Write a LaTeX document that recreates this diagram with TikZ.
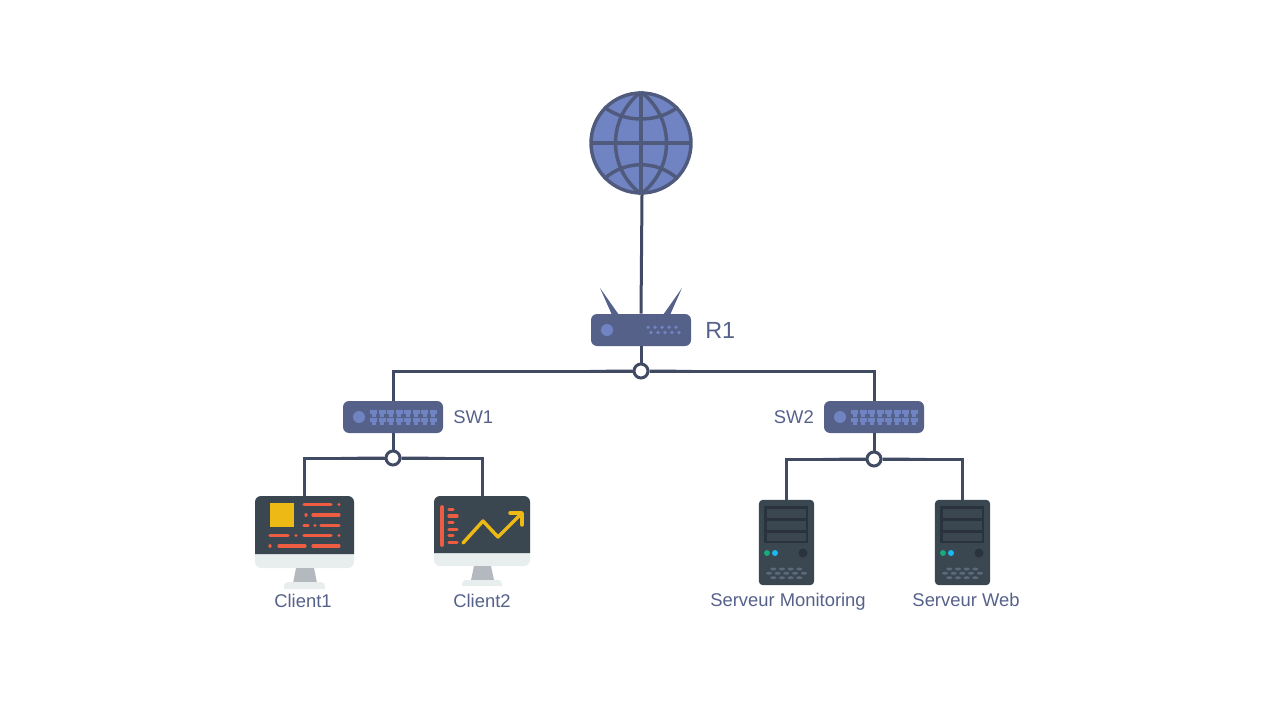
\documentclass[tikz,border=0pt]{standalone}
\usepackage{fontspec}
\setmainfont{Liberation Sans}
\definecolor{wirecol}{HTML}{414A63}
\definecolor{boxcol}{HTML}{56618A}
\definecolor{ledcol}{HTML}{7083C2}
\definecolor{globeline}{HTML}{4F5A7C}
\definecolor{screencol}{HTML}{3A4650}
\definecolor{chincol}{HTML}{E8EEEE}
\definecolor{standcol}{HTML}{B4B9C0}
\definecolor{redcol}{HTML}{EE5C41}
\definecolor{yellowcol}{HTML}{ECB915}
\definecolor{rackcol}{HTML}{2A333C}
\definecolor{keycol}{HTML}{5A6A7A}
\definecolor{tealcol}{HTML}{1AA87C}
\definecolor{skycol}{HTML}{1CB8F0}
\tikzset{
  wire/.style={draw=wirecol,line width=2.25pt},
  junction/.style={circle,draw=wirecol,fill=white,line width=2.25pt,minimum size=10.5pt,inner sep=0pt},
  netbox/.style={rectangle,fill=boxcol,rounded corners=4.5pt,minimum width=75pt,minimum height=24pt,inner sep=0pt},
  monitorbox/.style={rectangle,fill=chincol,rounded corners=4.5pt,inner sep=0pt},
  serverbox/.style={rectangle,fill=screencol,rounded corners=3pt,minimum width=41.5pt,minimum height=64pt,inner sep=0pt},
  label/.style={text=boxcol,font=\fontsize{13.8}{16}\selectfont,inner sep=0pt},
  redline/.style={draw=redcol,line width=2.5pt,line cap=round},
  serverparts/.pic={
    \fill[rackcol] (-22.5,-36.5) rectangle (21.5,0.5);
    \foreach \y in {-33.5,-21.5,-10} \fill[screencol] (-19.5,\y) rectangle (19.5,\y+8.5);
    \fill[tealcol] (-19.5,10.5) circle (3);
    \fill[skycol] (-11.5,10.5) circle (3);
    \fill[rackcol] (16.5,10.5) circle (4.5);
    \foreach \x in {-13.2,-4.5,4.2,12.8} {
      \fill[keycol] (\x,26.5) ellipse [x radius=3,y radius=1.5];
      \fill[keycol] (\x,35.2) ellipse [x radius=3,y radius=1.5];
    }
    \foreach \x in {-17.5,-8.8,-0.2,8.5,17.5} \fill[keycol] (\x,30.8) ellipse [x radius=3,y radius=1.5];
  }
}
\begin{document}
\begin{tikzpicture}[x=0.75pt,y=-0.75pt]
  \useasboundingbox (0,0) rectangle (1280,720);
  % Internet
  \node[circle,draw=globeline,fill=ledcol,line width=2.6pt,minimum size=75pt,inner sep=0pt] (globe) at (641,143) {};
  \draw[globeline,line width=2.6pt] (590,143) -- (692,143);
  \draw[globeline,line width=2.6pt] (641,92) -- (641,194);
  \draw[globeline,line width=2.6pt] (641,92) .. controls (607,118) and (607,168) .. (641,194);
  \draw[globeline,line width=2.6pt] (641,92) .. controls (675,118) and (675,168) .. (641,194);
  \draw[globeline,line width=2.6pt] (604,107) .. controls (625,123) and (657,123) .. (678,107);
  \draw[globeline,line width=2.6pt] (604,179) .. controls (625,160) and (657,160) .. (678,179);
  % Router
  \fill[boxcol] (600,288) -- (612,315) -- (619,315) -- cycle;
  \fill[boxcol] (682,288) -- (670,315) -- (663,315) -- cycle;
  \node[netbox] (R1) at (641,330) {};
  \fill[ledcol] (607,330) circle (6);
  \foreach \x in {648,655,662,669,676} \fill[ledcol] (\x,327.3) circle (1.8);
  \foreach \x in {651,658,665,672,679} \fill[ledcol] (\x,332.5) circle (1.8);
  \node[label,font=\fontsize{17.5}{20}\selectfont,anchor=base west] (R1text) at (705,338) {R1};
  % Switches
  \node[netbox] (SW1) at (393,417) {};
  \node[netbox] (SW2) at (874,417) {};
  \foreach \s in {SW1,SW2} {
    \fill[ledcol] ([xshift=-25.5pt]\s.center) circle (6);
    \foreach \i in {0,...,7} {
      \foreach \y in {-7,1} {
        \begin{scope}[shift={(\s.center)},xshift=\i*6.4pt,yshift=-\y*0.75pt]
          \fill[ledcol] (-23,0) rectangle (-16,4);
          \fill[ledcol] (-21.5,4) rectangle (-17.5,7);
        \end{scope}
      }
    }
  }
  \node[label,anchor=base west] (SW1text) at (453,423) {SW1};
  \node[label,anchor=base east] (SW2text) at (814,423) {SW2};
  % Junctions
  \node[junction] (J0) at (641,371) {};
  \node[junction] (J1) at (393,458) {};
  \node[junction] (J2) at (874,459) {};
  \coordinate (J0a) at (590,371.4);
  \coordinate (J0b) at (692,371.4);
  \coordinate (J1a) at (341,458.4);
  \coordinate (J1b) at (445,458.4);
  \coordinate (J2a) at (823,459.4);
  \coordinate (J2b) at (926,459.4);
  % Clients
  \node[monitorbox,minimum width=74.25pt,minimum height=54pt] (client1) at (304.5,532) {};
  \fill[screencol] (255,554) [rounded corners=4.5pt] -- (255,496) -- (354,496) [sharp corners] -- (354,554) -- cycle;
  \fill[standcol] (296,568) -- (314,568) -- (317,583) -- (293,583) -- cycle;
  \fill[chincol] (284,589) [rounded corners=3pt] -- (284,582) -- (325,582) [sharp corners] -- (325,589) -- cycle;
  \fill[yellowcol] (270,503) rectangle (294,527);
  \draw[redline] (304,504.7) -- (331,504.7) (339,504.7) -- (339.01,504.7);
  \draw[redline] (306,515) -- (306.01,515) (313,515) -- (339,515);
  \draw[redline] (304,525.3) -- (308,525.3) (315,525.3) -- (315.01,525.3) (321,525.3) -- (339,525.3);
  \draw[redline] (270,535.7) -- (288,535.7) (296,535.7) -- (296.01,535.7) (304,535.7) -- (331,535.7) (339,535.7) -- (339.01,535.7);
  \draw[redline] (270,546) -- (270.01,546) (279,546) -- (305,546) (313,546) -- (339,546);
  \node[monitorbox,minimum width=72pt,minimum height=52.5pt] (client2) at (482,531) {};
  \fill[screencol] (434,553) [rounded corners=4.5pt] -- (434,496) -- (530,496) [sharp corners] -- (530,553) -- cycle;
  \fill[standcol] (474,566) -- (491,566) -- (494,580) -- (471,580) -- cycle;
  \fill[chincol] (462,586) [rounded corners=3pt] -- (462,580) -- (502,580) [sharp corners] -- (502,586) -- cycle;
  \draw[redline,line width=2.8pt] (442,507) -- (442,545);
  \foreach \y/\x in {509.3/453,516/457,522.7/453,529.3/457,535.7/453,542.3/457} \draw[redline] (449,\y) -- (\x,\y);
  \draw[yellowcol,line width=2.6pt,line cap=round,line join=round] (463,543) -- (483,521) -- (498,537) -- (522,513);
  \draw[yellowcol,line width=2.6pt,line cap=round,line join=round] (510,513) -- (522,513) -- (522,525);
  \node[label,anchor=base] (client1text) at (303,607) {Client1};
  \node[label,anchor=base] (client2text) at (482,607) {Client2};
  % Servers
  \node[serverbox] (srvmon) at (786.5,542.5) {};
  \pic at (srvmon.center) {serverparts};
  \node[serverbox] (srvweb) at (962.5,542.5) {};
  \pic at (srvweb.center) {serverparts};
  \node[label,anchor=base] (srvmontext) at (788,606.5) {Serveur Monitoring};
  \node[label,anchor=base] (srvwebtext) at (966,606.5) {Serveur Web};
  % Links
  \draw[wire] ([xshift=0.75pt]globe.south) -- (R1.north);
  \draw[wire] (R1.south) -- (J0.north);
  \draw[wire] (J0.west) -| (SW1.north);
  \draw[wire] (J0.east) -| (SW2.north);
  \draw[wire] (J0a) -- (J0.west);
  \draw[wire] (J0b) -- (J0.east);
  \draw[wire] (SW1.south) -- (J1.north);
  \draw[wire] (SW2.south) -- (J2.north);
  \draw[wire] (J1.west) -| (client1.north);
  \draw[wire] (J1.east) -| (client2.north);
  \draw[wire] (J1a) -- (J1.west);
  \draw[wire] (J1b) -- (J1.east);
  \draw[wire] (J2.west) -| (srvmon.north);
  \draw[wire] (J2.east) -| (srvweb.north);
  \draw[wire] (J2a) -- (J2.west);
  \draw[wire] (J2b) -- (J2.east);
\end{tikzpicture}
\end{document}
